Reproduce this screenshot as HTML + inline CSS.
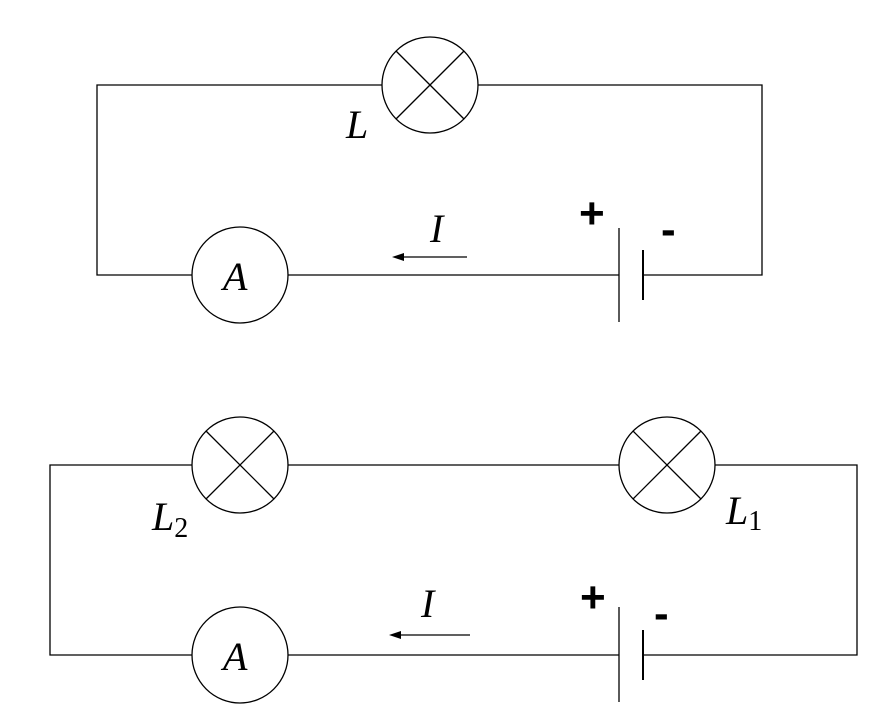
<!DOCTYPE html>
<html><head><style>body{margin:0;background:#fff}</style></head><body>
<svg width="893" height="726" xmlns="http://www.w3.org/2000/svg" style="display:block">
<g stroke="#000" stroke-width="1.3" fill="none">
<polyline points="382,85 97,85 97,275 192,275"/>
<polyline points="478,85 762,85 762,275 643,275"/>
<line x1="288" y1="275" x2="619" y2="275"/>
<circle cx="430" cy="85" r="48"/>
<line x1="396" y1="51" x2="464" y2="119"/><line x1="464" y1="51" x2="396" y2="119"/>
<circle cx="240" cy="275" r="48"/>
<line x1="619" y1="228" x2="619" y2="322"/>
<line x1="643" y1="250" x2="643" y2="300" stroke-width="2"/>
<line x1="467" y1="257" x2="400" y2="257"/>
<polyline points="192,465 50,465 50,655 192,655"/>
<line x1="288" y1="465" x2="619" y2="465"/>
<polyline points="715,465 857,465 857,655 643,655"/>
<line x1="288" y1="655" x2="619" y2="655"/>
<circle cx="240" cy="465" r="48"/>
<line x1="206" y1="431" x2="274" y2="499"/><line x1="274" y1="431" x2="206" y2="499"/>
<circle cx="667" cy="465" r="48"/>
<line x1="633" y1="431" x2="701" y2="499"/><line x1="701" y1="431" x2="633" y2="499"/>
<circle cx="240" cy="655" r="48"/>
<line x1="619" y1="607" x2="619" y2="702"/>
<line x1="643" y1="630" x2="643" y2="680" stroke-width="2"/>
<line x1="470" y1="635" x2="397" y2="635"/>
</g>
<polygon points="392,257 404,253 404,261" fill="#000"/>
<polygon points="389,635 401,631 401,639" fill="#000"/>
<g style="font-family:'Liberation Serif',serif;font-style:italic;font-size:40px" fill="#000">
<text x="223" y="290">A</text>
<text x="223" y="670">A</text>
<text x="346" y="138">L</text>
<text x="430" y="242">I</text>
<text x="421" y="617">I</text>
<text x="152" y="530">L<tspan style="font-style:normal;font-size:28px" dy="7">2</tspan></text>
<text x="726" y="524">L<tspan style="font-style:normal;font-size:28px" dy="6">1</tspan></text>
</g>
<g style="font-family:'Liberation Sans',sans-serif;font-weight:bold;font-size:44px" fill="#000">
<text x="579" y="228">+</text>
<text x="661" y="244">-</text>
<text x="580" y="612">+</text>
<text x="654" y="628">-</text>
</g>
</svg>
</body></html>
